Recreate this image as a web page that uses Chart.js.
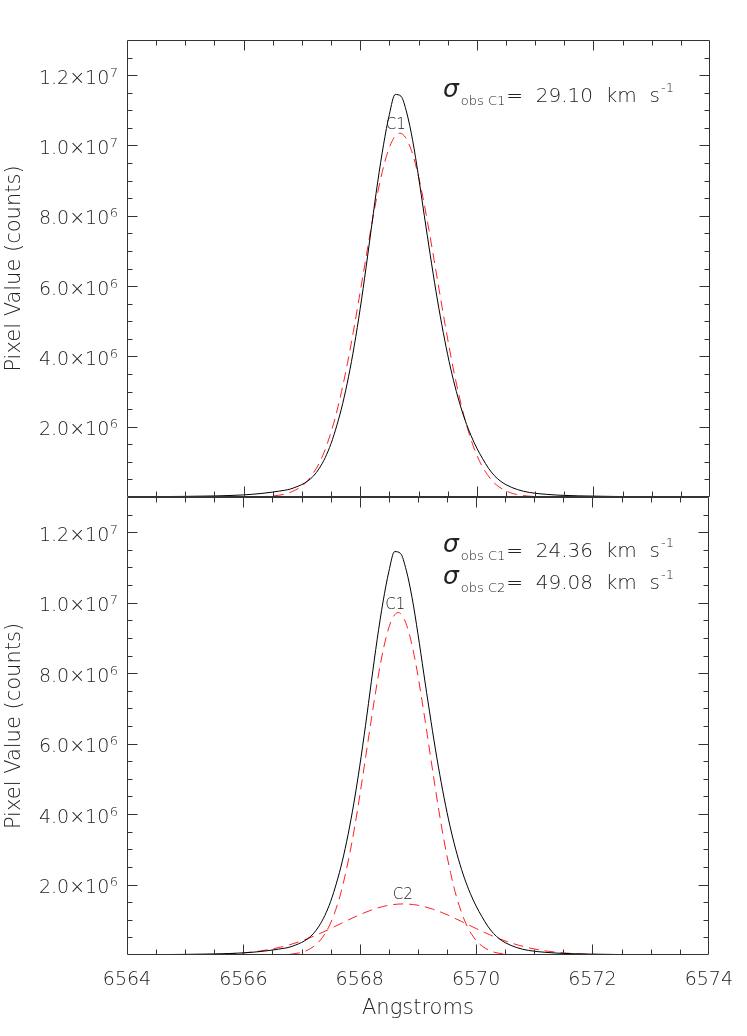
<!DOCTYPE html>
<html><head><meta charset="utf-8">
<script src="https://cdn.jsdelivr.net/npm/chart.js@4.4.0/dist/chart.umd.min.js"></script>
<style>
html,body{margin:0;padding:0;background:#fff;}
#wrap{position:relative;width:747px;height:1036px;overflow:hidden;background:#fff;}
canvas{position:absolute;left:0;}
#c1{top:0;}
#c2{top:470px;}
</style></head><body>
<div id="wrap"><canvas id="c1" width="747" height="520"></canvas><canvas id="c2" width="747" height="566"></canvas></div>
<script>
// ---- data (counts in units of 10^6) ----
const observedWave = [6564.6,6565.0,6565.5,6566.0,6566.3,6566.5,6566.6,6566.7,6566.8,6566.9,6567.0,6567.1,6567.2,6567.3,6567.4,6567.5,6567.6,6567.7,6567.8,6567.9,6568.0,6568.1,6568.2,6568.3,6568.4,6568.5,6568.6,6568.7,6568.8,6568.9,6569.0,6569.1,6569.2,6569.3,6569.4,6569.5,6569.6,6569.7,6569.8,6569.9,6570.0,6570.1,6570.2,6570.3,6570.4,6570.5,6570.7,6570.9,6571.2,6571.5,6572.0,6572.5,6572.8];
const observedCounts = [0.012,0.018,0.03,0.06,0.10,0.14,0.165,0.19,0.225,0.285,0.355,0.455,0.60,0.82,1.12,1.52,2.04,2.66,3.42,4.32,5.36,6.52,7.76,8.96,10.02,10.88,11.45,11.40,10.92,10.14,9.12,8.00,6.90,5.85,4.90,4.05,3.32,2.70,2.18,1.75,1.39,1.09,0.82,0.61,0.46,0.35,0.21,0.13,0.075,0.045,0.025,0.012,0.008];

const singleC1Wave = [6564.6,6566.08,6566.28,6566.48,6566.68,6566.78,6566.88,6566.98,6567.08,6567.18,6567.28,6567.38,6567.48,6567.58,6567.68,6567.78,6567.88,6567.98,6568.08,6568.18,6568.28,6568.38,6568.48,6568.58,6568.68,6568.78,6568.88,6568.98,6569.08,6569.18,6569.28,6569.38,6569.48,6569.58,6569.68,6569.78,6569.88,6569.98,6570.08,6570.18,6570.28,6570.38,6570.48,6570.58,6570.68,6570.88,6571.08,6571.28,6572.8];
const singleC1Counts = [0,0.002,0.008,0.026,0.072,0.12,0.19,0.29,0.43,0.64,0.91,1.27,1.74,2.31,3.00,3.79,4.68,5.64,6.62,7.59,8.49,9.26,9.85,10.22,10.35,10.22,9.85,9.26,8.49,7.59,6.62,5.64,4.68,3.79,3.00,2.31,1.74,1.27,0.91,0.64,0.43,0.29,0.19,0.12,0.072,0.026,0.008,0.002,0];

const doubleC1Wave = [6564.6,6566.46,6566.66,6566.86,6566.96,6567.06,6567.16,6567.26,6567.36,6567.46,6567.56,6567.66,6567.76,6567.86,6567.96,6568.06,6568.16,6568.26,6568.36,6568.46,6568.56,6568.66,6568.76,6568.86,6568.96,6569.06,6569.16,6569.26,6569.36,6569.46,6569.56,6569.66,6569.76,6569.86,6569.96,6570.06,6570.16,6570.26,6570.36,6570.46,6570.66,6570.86,6572.8];
const doubleC1Counts = [0,0.002,0.0085,0.032,0.060,0.107,0.19,0.31,0.50,0.77,1.16,1.67,2.34,3.15,4.10,5.16,6.26,7.33,8.30,9.06,9.55,9.72,9.55,9.06,8.30,7.33,6.26,5.16,4.10,3.15,2.34,1.67,1.16,0.77,0.50,0.31,0.19,0.107,0.060,0.032,0.0085,0.002,0];

const doubleC2Wave = [6564.6,6564.75,6565.25,6565.75,6566.0,6566.25,6566.5,6566.75,6567.0,6567.25,6567.5,6567.75,6568.0,6568.25,6568.5,6568.75,6569.0,6569.25,6569.5,6569.75,6570.0,6570.25,6570.5,6570.75,6571.0,6571.25,6571.5,6571.75,6572.25,6572.75,6572.8];
const doubleC2Counts = [0.001,0.0017,0.0084,0.033,0.060,0.104,0.172,0.269,0.399,0.562,0.751,0.952,1.144,1.305,1.412,1.45,1.412,1.305,1.144,0.952,0.751,0.562,0.399,0.269,0.172,0.104,0.060,0.033,0.0084,0.0017,0.001];

const xTickValues = [6564,6566,6568,6570,6572,6574];
const xTickLabels = ['6564','6566','6568','6570','6572','6574'];
const yTickValues = [2,4,6,8,10,12];
const yTickMantissa = ['2.0×10','4.0×10','6.0×10','8.0×10','1.0×10','1.2×10'];
const yTickExponent = ['6','6','6','6','7','7'];

const topSigma = [['C1','29.10']];
const bottomSigma = [['C1','24.36'],['C2','49.08']];
const topComponentLabels = [['C1',6568.61,10.58]];
const bottomComponentLabels = [['C1',6568.61,9.94],['C2',6568.74,1.70]];

// ---- styling / axis config ----
const X_MIN = 6564, X_MAX = 6574, X_MINOR = 0.5, X_MAJOR_EVERY = 4;
const Y_MIN = 0, Y_MAX = 13, Y_MINOR = 0.5, Y_MAJOR_EVERY = 4;
const TEXT = '#222';
const FAM = "'DejaVu Sans', sans-serif";
const W = 200;

function pts(w, c) { return w.map((x, i) => ({x: x, y: c[i]})); }

const framePlugin = {
  id: 'frame',
  afterDatasetsDraw(chart) {
    const {ctx, chartArea: a} = chart;
    const xs = chart.scales.x, ys = chart.scales.y;
    const L = Math.round(a.left) + 0.5, R = Math.round(a.right) - 0.5;
    const T = Math.round(a.top) + 0.5, B = Math.round(a.bottom) - 0.5;
    ctx.save();
    ctx.strokeStyle = '#333';
    ctx.lineWidth = 1;
    ctx.beginPath();
    ctx.rect(L, T, R - L, B - T);
    const nx = Math.round((X_MAX - X_MIN) / X_MINOR);
    for (let i = 1; i < nx; i++) {
      const px = Math.round(xs.getPixelForValue(X_MIN + i * X_MINOR)) + 0.5;
      const len = (i % X_MAJOR_EVERY === 0) ? 10 : 5;
      ctx.moveTo(px, B); ctx.lineTo(px, B - len);
      ctx.moveTo(px, T); ctx.lineTo(px, T + len);
    }
    const ny = Math.round((Y_MAX - Y_MIN) / Y_MINOR);
    for (let i = 1; i < ny; i++) {
      const py = Math.round(ys.getPixelForValue(Y_MIN + i * Y_MINOR)) + 0.5;
      const len = (i % Y_MAJOR_EVERY === 0) ? 10 : 5;
      ctx.moveTo(L, py); ctx.lineTo(L + len, py);
      ctx.moveTo(R, py); ctx.lineTo(R - len, py);
    }
    ctx.stroke();
    // y tick labels with superscript exponents
    ctx.fillStyle = TEXT;
    ctx.textBaseline = 'alphabetic';
    ctx.textAlign = 'right';
    yTickValues.forEach((v, i) => {
      const py = ys.getPixelForValue(v);
      let xr = a.left - 9;
      ctx.font = W + " 13px " + FAM;
      ctx.fillText(yTickExponent[i], xr, py + 1.5);
      xr -= ctx.measureText(yTickExponent[i]).width + 0.5;
      ctx.font = W + " 19px " + FAM;
      ctx.fillText(yTickMantissa[i], xr, py + 8.5);
    });
    ctx.restore();
  }
};

function drawSigma(ctx, x, y, comp, val) {
  ctx.save();
  ctx.fillStyle = TEXT;
  ctx.textAlign = 'left';
  ctx.textBaseline = 'alphabetic';
  ctx.font = "italic " + W + " 25px " + FAM;
  ctx.fillText('σ', x, y - 5);
  x += ctx.measureText('σ').width + 2;
  ctx.font = W + " 13px " + FAM;
  const sub = 'obs ' + comp;
  ctx.fillText(sub, x, y + 3);
  x += ctx.measureText(sub).width + 1;
  ctx.font = W + " 20px " + FAM;
  const main = '=  ' + val + '  km  s';
  ctx.fillText(main, x, y);
  x += ctx.measureText(main).width + 1;
  ctx.font = W + " 13px " + FAM;
  ctx.fillText('-1', x, y - 10);
  ctx.restore();
}

function annotPlugin(sigmas, comps, baseOffset) {
  return {
    id: 'annot',
    afterDatasetsDraw(chart) {
      const {ctx, chartArea: a} = chart;
      const xs = chart.scales.x, ys = chart.scales.y;
      sigmas.forEach((s, i) => drawSigma(ctx, a.left + 316, a.top + baseOffset + i * 32, s[0], s[1]));
      ctx.save();
      ctx.fillStyle = TEXT;
      ctx.font = W + " 15px " + FAM;
      ctx.textAlign = 'center';
      ctx.textBaseline = 'middle';
      comps.forEach(c => ctx.fillText(c[0], xs.getPixelForValue(c[1]), ys.getPixelForValue(c[2])));
      ctx.restore();
    }
  };
}

function makeChart(id, datasets, cfg) {
  return new Chart(document.getElementById(id), {
    type: 'line',
    data: {datasets: datasets},
    options: {
      responsive: false, animation: false, devicePixelRatio: 1,
      layout: {padding: cfg.padding},
      plugins: {legend: {display: false}, tooltip: {enabled: false}},
      elements: {point: {radius: 0}, line: {borderWidth: 1, cubicInterpolationMode: 'monotone'}},
      scales: {
        x: {
          type: 'linear', min: X_MIN, max: X_MAX, display: cfg.showX,
          grid: {display: false, drawTicks: false}, border: {display: false},
          ticks: {
            stepSize: 2, padding: 14, color: TEXT, maxRotation: 0,
            font: {family: FAM, size: 19, weight: W},
            callback: v => { const i = xTickValues.indexOf(v); return i >= 0 ? xTickLabels[i] : ''; }
          },
          title: {display: true, text: 'Angstroms', color: TEXT, font: {family: FAM, size: 21, weight: W}, padding: {top: 0, bottom: 15}},
          afterFit: s => { if (cfg.showX) s.height = cfg.xHeight; }
        },
        y: {
          min: Y_MIN, max: Y_MAX,
          grid: {display: false, drawTicks: false}, border: {display: false},
          ticks: {display: false, stepSize: 2},
          title: {display: true, text: 'Pixel Value (counts)', color: TEXT, font: {family: FAM, size: 21, weight: W}, padding: {top: 2, bottom: 0}},
          afterFit: s => { s.width = 127; }
        }
      }
    },
    plugins: [framePlugin, annotPlugin(cfg.sigmas, cfg.comps, cfg.baseOffset)]
  });
}

const blackStyle = {borderColor: '#000', borderWidth: 1, fill: false};
const redStyle = {borderColor: '#ff2020', borderWidth: 1, borderDash: [10, 6], fill: false};

makeChart('c1', [
  Object.assign({label: 'Observed', data: pts(observedWave, observedCounts)}, blackStyle),
  Object.assign({label: 'C1', data: pts(singleC1Wave, singleC1Counts)}, redStyle)
], {padding: {top: 40, bottom: 23, left: 0, right: 37}, showX: false, sigmas: topSigma, comps: topComponentLabels, baseOffset: 62});

makeChart('c2', [
  Object.assign({label: 'Observed', data: pts(observedWave, observedCounts)}, blackStyle),
  Object.assign({label: 'C1', data: pts(doubleC1Wave, doubleC1Counts)}, redStyle),
  Object.assign({label: 'C2', data: pts(doubleC2Wave, doubleC2Counts)}, redStyle)
], {padding: {top: 27, bottom: 0, left: 0, right: 37}, showX: true, xHeight: 81, sigmas: bottomSigma, comps: bottomComponentLabels, baseOffset: 60});
</script>
</body></html>
